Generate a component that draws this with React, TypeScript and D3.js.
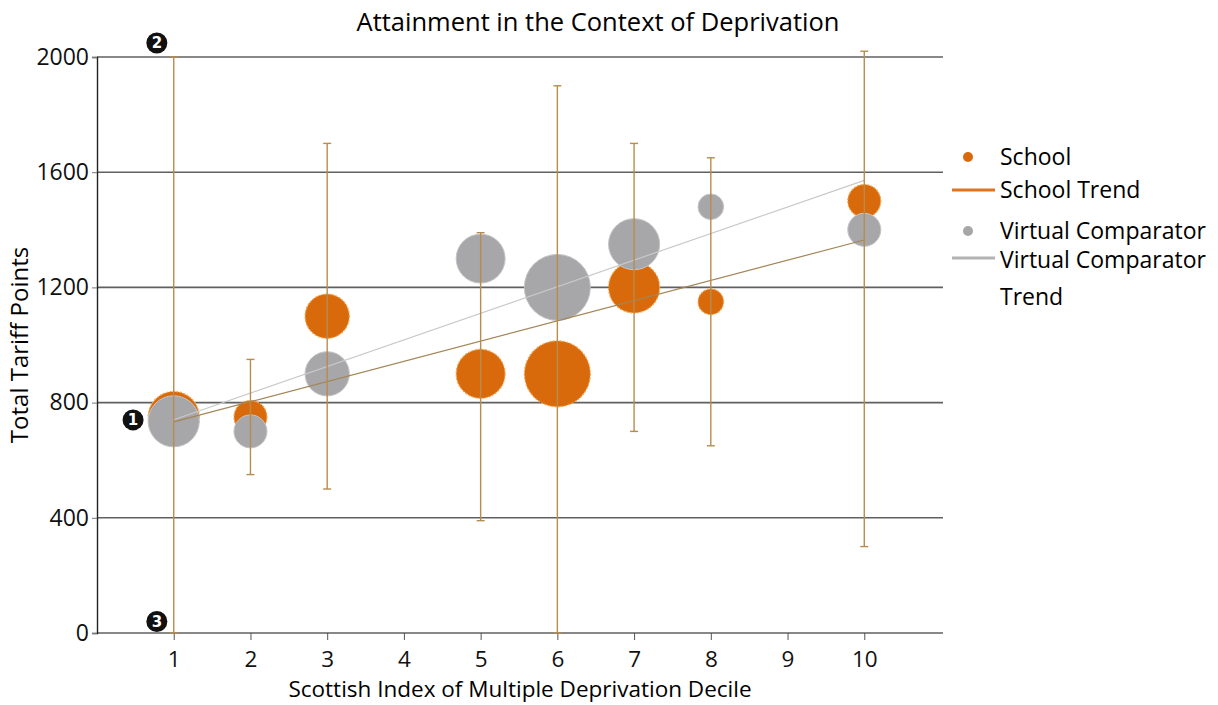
import React, { useEffect, useRef } from 'react';
import * as d3 from 'd3';

// SIMD deciles present in the data
const deciles = [1, 2, 3, 5, 6, 7, 8, 10];
// mean total tariff points
const schoolValues = [750, 750, 1100, 900, 900, 1200, 1150, 1500];
const comparatorValues = [735, 700, 900, 1300, 1200, 1350, 1480, 1400];
// number of pupils per decile (bubble size)
const pupilCounts = [12, 5, 9, 11, 20, 12, 3, 5];
// range (min / max) per decile
const rangeLow = [0, 550, 500, 390, 0, 700, 650, 300];
const rangeHigh = [2000, 950, 1700, 1390, 1900, 1700, 1650, 2020];

const xTicks = [1, 2, 3, 4, 5, 6, 7, 8, 9, 10];
const yTicks = [0, 400, 800, 1200, 1600, 2000];

const ORANGE = '#d96a0c';
const GREY = '#a7a7a9';

function linearFit(xs: number[], ys: number[]) {
  const mx = d3.mean(xs)!;
  const my = d3.mean(ys)!;
  const sxy = d3.sum(xs, (x, i) => (x - mx) * (ys[i] - my));
  const sxx = d3.sum(xs, x => (x - mx) * (x - mx));
  const slope = sxy / sxx;
  return (x: number) => my + slope * (x - mx);
}

const AttainmentChart: React.FC = () => {
  const svgRef = useRef<SVGSVGElement>(null);

  useEffect(() => {
    if (!svgRef.current) return;
    const svg = d3.select(svgRef.current);
    svg.selectAll('*').remove();

    const font = '"Open Sans", "Noto Sans", sans-serif';
    const left = 97, right = 941, top = 57, bottom = 633;

    const x = d3.scaleLinear().domain([0, 11]).range([left, right]);
    const y = d3.scaleLinear().domain([0, 2000]).range([bottom, top]);
    const r = d3.scaleSqrt().domain([0, 20]).range([0, 33]);

    // Title
    svg.append('text')
      .attr('x', 598).attr('y', 31)
      .attr('text-anchor', 'middle')
      .style('font-family', font).style('font-size', '25.5px')
      .text('Attainment in the Context of Deprivation');

    // Horizontal grid lines
    svg.append('g').selectAll('line')
      .data(yTicks)
      .enter().append('line')
      .attr('x1', left).attr('x2', right + 2)
      .attr('y1', d => y(d)).attr('y2', d => y(d))
      .attr('stroke', '#606060').attr('stroke-width', 1.6);

    // Y axis
    const yAxis = svg.append('g')
      .attr('transform', `translate(${left},0)`)
      .call(d3.axisLeft(y).tickValues(yTicks).tickSize(5).tickFormat(d3.format('d')));
    yAxis.select('.domain').attr('stroke', '#222').attr('stroke-width', 1.4);
    yAxis.selectAll('.tick line').attr('stroke', '#777');
    yAxis.selectAll('text')
      .attr('x', -8)
      .style('font-family', font).style('font-size', '23px').attr('fill', '#111');

    // X axis
    const xAxis = svg.append('g')
      .attr('transform', `translate(0,${bottom})`)
      .call(d3.axisBottom(x).tickValues(xTicks).tickSize(7).tickSizeOuter(0));
    xAxis.select('.domain').remove();
    xAxis.selectAll('.tick line').attr('stroke', '#555');
    xAxis.selectAll('text')
      .attr('y', 18)
      .style('font-family', font).style('font-size', '22.5px').attr('fill', '#111');

    // Axis titles
    svg.append('text')
      .attr('transform', `translate(28,${(top + bottom) / 2}) rotate(-90)`)
      .attr('text-anchor', 'middle')
      .style('font-family', font).style('font-size', '24px')
      .text('Total Tariff Points');

    svg.append('text')
      .attr('x', 520).attr('y', 697)
      .attr('text-anchor', 'middle')
      .style('font-family', font).style('font-size', '22.5px')
      .text('Scottish Index of Multiple Deprivation Decile');

    const plot = svg.append('g');

    // Bubbles: school then virtual comparator
    plot.selectAll('.school')
      .data(deciles)
      .enter().append('circle')
      .attr('class', 'school')
      .attr('cx', d => x(d))
      .attr('cy', (_, i) => y(schoolValues[i]))
      .attr('r', (_, i) => r(pupilCounts[i]))
      .attr('fill', ORANGE)
      .attr('stroke', '#f2a650').attr('stroke-width', 1.2)
      .attr('stroke-dasharray', '2,1.5');

    plot.selectAll('.comparator')
      .data(deciles)
      .enter().append('circle')
      .attr('class', 'comparator')
      .attr('cx', d => x(d))
      .attr('cy', (_, i) => y(comparatorValues[i]))
      .attr('r', (_, i) => r(pupilCounts[i]))
      .attr('fill', GREY)
      .attr('stroke', '#c4c4c6').attr('stroke-width', 1);

    // Trend lines (least squares)
    const schoolFit = linearFit(deciles, schoolValues);
    const compFit = linearFit(deciles, comparatorValues);
    const x0 = d3.min(deciles)!, x1 = d3.max(deciles)!;
    const line = d3.line<number[]>().x(d => x(d[0])).y(d => y(d[1]));

    plot.append('path')
      .attr('d', line([[x0, compFit(x0)], [x1, compFit(x1)]]))
      .attr('fill', 'none')
      .attr('stroke', '#c9c9cb').attr('stroke-width', 1.2);

    plot.append('path')
      .attr('d', line([[x0, schoolFit(x0)], [x1, schoolFit(x1)]]))
      .attr('fill', 'none')
      .attr('stroke', '#a38556').attr('stroke-width', 1.2);

    // Range bars
    const bars = plot.append('g').attr('stroke', '#b78c4e').attr('stroke-width', 1.4);
    deciles.forEach((d, i) => {
      const cx = x(d);
      bars.append('line')
        .attr('x1', cx).attr('x2', cx)
        .attr('y1', y(rangeLow[i])).attr('y2', y(rangeHigh[i]));
      [rangeLow[i], rangeHigh[i]].forEach(v => {
        bars.append('line')
          .attr('x1', cx - 4).attr('x2', cx + 4)
          .attr('y1', y(v)).attr('y2', y(v));
      });
    });

    // Numbered annotation markers
    const markers = [
      { n: '1', px: x(0.47), py: y(740) },
      { n: '2', px: x(0.78), py: top - 14 },
      { n: '3', px: x(0.78), py: y(40) },
    ];
    const mk = svg.append('g').selectAll('g')
      .data(markers)
      .enter().append('g')
      .attr('transform', d => `translate(${d.px},${d.py})`);
    mk.append('circle').attr('r', 10.5).attr('fill', '#111');
    mk.append('text')
      .attr('text-anchor', 'middle').attr('dy', '0.36em')
      .style('font-family', '"DejaVu Sans", sans-serif')
      .style('font-size', '15px').style('font-weight', 'bold')
      .attr('fill', '#fff')
      .text(d => d.n);

    // Legend
    const lg = svg.append('g').style('font-family', font).style('font-size', '23px');
    const tx = 1000;
    lg.append('circle').attr('cx', 968).attr('cy', 157).attr('r', 5).attr('fill', ORANGE);
    lg.append('text').attr('x', tx).attr('y', 165).text('School');
    lg.append('line').attr('x1', 952).attr('x2', 995).attr('y1', 190).attr('y2', 190)
      .attr('stroke', '#e0741c').attr('stroke-width', 3);
    lg.append('text').attr('x', tx).attr('y', 198).text('School Trend');
    lg.append('circle').attr('cx', 968).attr('cy', 231).attr('r', 5).attr('fill', GREY);
    lg.append('text').attr('x', tx).attr('y', 239).text('Virtual Comparator');
    lg.append('line').attr('x1', 952).attr('x2', 995).attr('y1', 258).attr('y2', 258)
      .attr('stroke', '#b3b3b3').attr('stroke-width', 3);
    lg.append('text').attr('x', tx).attr('y', 268).text('Virtual Comparator');
    lg.append('text').attr('x', tx).attr('y', 305).text('Trend');
  }, []);

  return (
    <svg
      ref={svgRef}
      width={1218}
      height={705}
      style={{ position: 'absolute', left: 0, top: 0, display: 'block', background: '#fff' }}
    />
  );
};

export default function App() {
  return <AttainmentChart />;
}
